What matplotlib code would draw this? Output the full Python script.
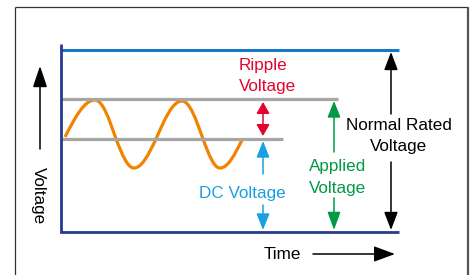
import matplotlib
matplotlib.use('Agg')
import matplotlib.pyplot as plt
from matplotlib.path import Path
from matplotlib.patches import PathPatch, FancyArrowPatch, ArrowStyle

plt.rcParams['font.family'] = ['Liberation Sans', 'DejaVu Sans']

# voltage levels (diagram units, larger = lower on the page)
rated_level = 50
ripple_top = 99
dc_level = 139
zero_level = 232

# ripple wave: start, peak, cross, trough, cross, peak, cross, trough, end
wave_x = [65, 95, 116, 134, 156, 182, 203, 220, 242]
wave_y = [137, 100, 139, 168, 139, 101, 139, 168, 140]

labels_ripple = ['Ripple', 'Voltage']
labels_rated = ['Normal Rated', 'Voltage']
labels_applied = ['Applied', 'Voltage']
label_dc = 'DC Voltage'
label_time = 'Time'
label_volt = 'Voltage'

RED = '#e4032e'
BLUE = '#1aa0e2'
GREEN = '#009a44'
ORANGE = '#f08300'
GRAY = '#a6a6a6'
NAVY = '#263a8e'
TOPBLUE = '#1a78c2'
FS = 12.3

fig = plt.figure(figsize=(4.73, 2.75), dpi=100)
ax = fig.add_axes([0, 0, 1, 1])
ax.set_xlim(0, 473)
ax.set_ylim(275, 0)
ax.axis('off')

# outer frame
ax.plot([15, 15], [275, 7], color='#333333', lw=0.9, solid_capstyle='butt')
ax.plot([15, 468], [7, 7], color='#333333', lw=0.9, solid_capstyle='butt')
ax.plot([468, 468], [7, 275], color='#555555', lw=1.6, solid_capstyle='butt')

x0 = 61
# level lines
ax.plot([x0, 399], [rated_level, rated_level], color=TOPBLUE, lw=2.2, solid_capstyle='butt')
ax.plot([x0, 338], [ripple_top, ripple_top], color=GRAY, lw=2.3, solid_capstyle='butt')
ax.plot([x0, 283], [dc_level, dc_level], color=GRAY, lw=2.3, solid_capstyle='butt')
# axes
ax.plot([x0, x0, 399], [44, zero_level, zero_level], color=NAVY, lw=2.0,
        solid_capstyle='butt', solid_joinstyle='miter')

# ripple wave as bezier segments between read points
verts = [(wave_x[0], wave_y[0])]
codes = [Path.MOVETO]
for i in range(len(wave_x) - 1):
    ax_, ay = wave_x[i], wave_y[i]
    bx, by = wave_x[i + 1], wave_y[i + 1]
    w, h = bx - ax_, by - ay
    if i % 2 == 0:
        c1 = (ax_ + 0.334 * w, ay + 0.525 * h)
        c2 = (ax_ + 0.638 * w, by)
    else:
        c1 = (ax_ + 0.362 * w, ay)
        c2 = (ax_ + 0.666 * w, ay + 0.475 * h)
    verts += [c1, c2, (bx, by)]
    codes += [Path.CURVE4] * 3
ax.add_patch(PathPatch(Path(verts, codes), fill=False, edgecolor=ORANGE, lw=2.3))


def arrow(p0, p1, color, hl, hw, style='-|>', lw=1.1):
    st = ArrowStyle(style, head_length=hl, head_width=hw)
    ax.add_patch(FancyArrowPatch(p0, p1, arrowstyle=st, mutation_scale=1,
                                 color=color, lw=lw, shrinkA=0, shrinkB=0))


# ripple voltage
arrow((263, 102), (263, 136), RED, 7.0, 4.0, style='<|-|>')
# dc voltage
arrow((263, 174), (263, 141), BLUE, 10, 4.0)
arrow((263, 205), (263, 230), BLUE, 10, 4.0)
# applied voltage
arrow((334, 152), (334, 101), GREEN, 10, 4.0)
arrow((334, 198), (334, 230), GREEN, 11, 4.0)
# normal rated voltage
arrow((391, 114), (391, 52), 'black', 11, 4.2)
arrow((391, 162), (391, 230), 'black', 11, 4.2)
# axis arrows
arrow((40, 149), (40, 66), 'black', 13, 4.4)
arrow((313, 254), (395, 254), 'black', 13, 4.8)

ax.text(239, 70, labels_ripple[0], color=RED, fontsize=FS, ha='left', va='baseline')
ax.text(239, 91, labels_ripple[1], color=RED, fontsize=FS, ha='left', va='baseline')
ax.text(399, 130, labels_rated[0], color='black', fontsize=FS, ha='center', va='baseline')
ax.text(399, 151.5, labels_rated[1], color='black', fontsize=FS, ha='center', va='baseline')
ax.text(338, 170.5, labels_applied[0], color=GREEN, fontsize=FS, ha='center', va='baseline')
ax.text(338, 192.5, labels_applied[1], color=GREEN, fontsize=FS, ha='center', va='baseline')
ax.text(242.5, 198, label_dc, color=BLUE, fontsize=FS, ha='center', va='baseline')
ax.text(282, 259.3, label_time, color='black', fontsize=FS, ha='center', va='baseline')
ax.text(38, 196, label_volt, color='black', fontsize=FS, ha='center', va='center', rotation=-90)

fig.savefig('out.png', dpi=100)
